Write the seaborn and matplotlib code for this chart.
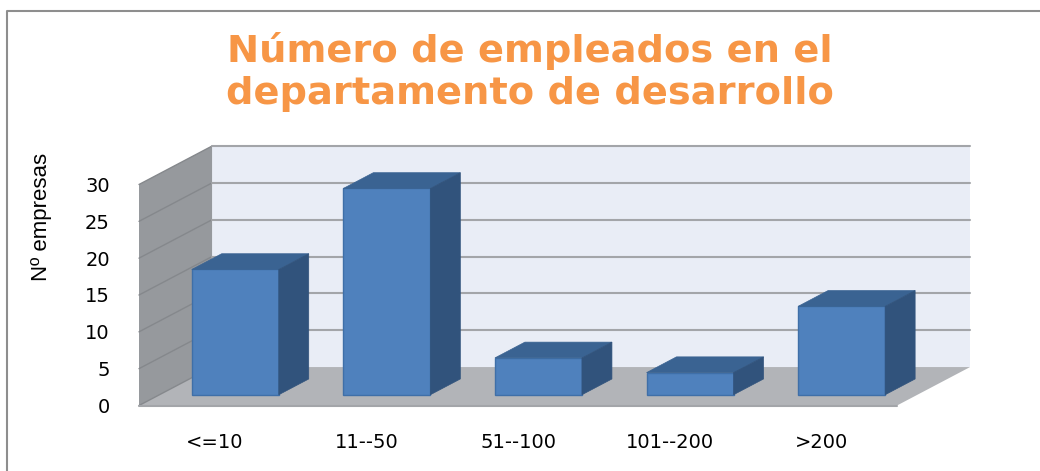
import matplotlib
matplotlib.use("Agg")
import matplotlib.pyplot as plt
import pandas as pd
import seaborn as sns
from matplotlib.lines import Line2D
from matplotlib.patches import Polygon

# datos
categorias = ["<=10", "11--50", "51--100", "101--200", ">200"]
empresas = [17, 28, 5, 3, 12]
ticks_y = [0, 5, 10, 15, 20, 25, 30]

titulo = "Número de empleados en el\ndepartamento de desarrollo"
etiqueta_y = "Nº empresas"

# perspectiva falsa: cuanto se desplaza el fondo respecto al plano frontal
DX = 0.482
DY = 5.22
BARRA_D0 = 0.28
BARRA_D1 = 0.69


def fondo(x, y, d):
    return (x + d * DX, y + d * DY)


sns.set_theme(style="white")
plt.rcParams["font.family"] = ["DejaVu Sans"]

fig = plt.figure(figsize=(10.4, 4.71), dpi=100)
# eje = plano frontal del suelo
ax = fig.add_axes([139 / 1040, (471 - 405.5) / 471, 758 / 1040, 221 / 471])

df = pd.DataFrame({"rango": categorias, "empresas": empresas})
sns.barplot(
    data=df, x="rango", y="empresas", color="#4F81BD", saturation=1,
    width=0.574, ax=ax, zorder=5,
)
ax.set_xlim(-0.5, 4.5)
ax.set_ylim(0, 30)

izq, der = ax.get_xlim()

# paredes y suelo
ax.add_patch(Polygon(
    [fondo(izq, 0, 1), fondo(der, 0, 1), fondo(der, 30, 1), fondo(izq, 30, 1)],
    fc="#E9EDF6", ec="none", clip_on=False, zorder=1))
ax.add_patch(Polygon(
    [fondo(izq, 0, 0), fondo(izq, 0, 1), fondo(izq, 30, 1), fondo(izq, 30, 0)],
    fc="#96999D", ec="none", clip_on=False, zorder=1))
ax.add_patch(Polygon(
    [fondo(izq, 0, 0), fondo(der, 0, 0), fondo(der, 0, 1), fondo(izq, 0, 1)],
    fc="#B2B4B8", ec="none", clip_on=False, zorder=2))

# rejilla
for t in ticks_y:
    x0, y0 = fondo(izq, t, 0)
    x1, y1 = fondo(izq, t, 1)
    x2, y2 = fondo(der, t, 1)
    ax.plot([x0, x1], [y0, y1], color="#85888C", lw=1, clip_on=False, zorder=3)
    if t > 0:
        ax.plot([x1, x2], [y1, y2], color="#A3A5A9", lw=1.5, clip_on=False, zorder=3)
ax.plot([izq, der], [0, 0], color="#A3A5A9", lw=1.5, clip_on=False, zorder=3)

# cada barra se lleva a su profundidad y se le añaden techo y lateral
for bar, v in zip(ax.patches[:5], empresas):
    x = bar.get_x()
    w = bar.get_width()
    xd, yd = fondo(x, 0, BARRA_D0)
    bar.set_x(xd)
    bar.set_y(yd)
    bar.set_clip_on(False)
    bar.set_edgecolor("#3F6FA8")
    bar.set_linewidth(1)
    ax.add_patch(Polygon(
        [fondo(x, v, BARRA_D0), fondo(x + w, v, BARRA_D0),
         fondo(x + w, v, BARRA_D1), fondo(x, v, BARRA_D1)],
        fc="#3A6392", ec="#3A6392", lw=0.5, clip_on=False, zorder=6))
    ax.add_patch(Polygon(
        [fondo(x + w, 0, BARRA_D0), fondo(x + w, 0, BARRA_D1),
         fondo(x + w, v, BARRA_D1), fondo(x + w, v, BARRA_D0)],
        fc="#31537C", ec="#31537C", lw=0.5, clip_on=False, zorder=6))

sns.despine(ax=ax, left=True, bottom=True)
ax.set_xlabel("")
ax.set_ylabel("")
ax.set_yticks(ticks_y)
ax.tick_params(axis="y", length=0, pad=21, labelsize=14, labelcolor="black")
ax.tick_params(axis="x", length=0, pad=20, labelsize=14, labelcolor="black")
ax.patch.set_alpha(0)

# marco del grafico
fig.add_artist(Line2D([7 / 1040, 7 / 1040, 1], [0, 1 - 11 / 471, 1 - 11 / 471],
                      color="#8E8E8E", lw=1.5))

fig.text(530 / 1040, 1 - 72 / 471, titulo, ha="center", va="center",
         fontsize=27.6, fontweight="bold", color="#F79646", linespacing=1.24)
fig.text(42 / 1040, 1 - 217 / 471, etiqueta_y, rotation=90, ha="center", va="center",
         fontsize=16, color="black", family="Liberation Sans")

fig.savefig("out.png", dpi=100)
